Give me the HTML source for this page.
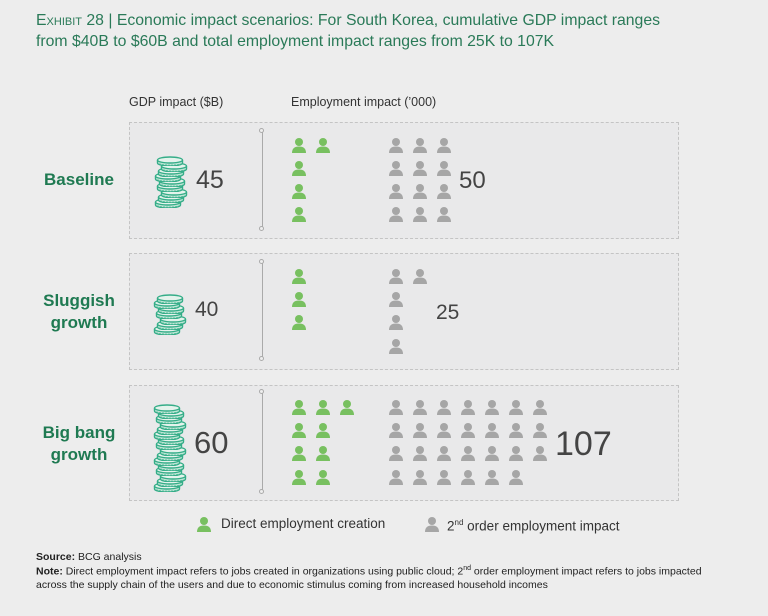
<!DOCTYPE html>
<html><head><meta charset="utf-8"><style>
body{margin:0;width:768px;height:616px;background:#ededed;font-family:"Liberation Sans",sans-serif;position:relative;overflow:hidden}
.a{position:absolute;white-space:nowrap}
.t{color:#2a7a58;font-size:15.8px;left:36px}
.panel{position:absolute;left:129px;width:548px;border:1px dashed #c4c4c4;background:#e9e9ea}
.lab{position:absolute;color:#1f7a52;font-weight:bold;font-size:17px;text-align:center;width:110px;left:24px;line-height:22px}
.num{position:absolute;color:#444;}
.vl{position:absolute;left:262px;width:1px;background:#aaa}
.dot{position:absolute;left:259px;width:5px;height:5px;border:1px solid #aaa;border-radius:50%;background:#eee;box-sizing:border-box;margin-left:0}
.hd{color:#333;font-size:12.5px;top:95px}
</style></head><body>
<svg width="0" height="0" style="position:absolute"><defs>
<symbol id="p" viewBox="0 0 16 16"><circle cx="8" cy="5" r="4"/><path d="M1 16 Q1 9.5 8 9.5 Q15 9.5 15 16Z"/></symbol>
</defs></svg>
<div class="a t" style="top:12px"><span style="font-variant:small-caps">Exhibit</span> 28 | Economic impact scenarios: For South Korea, cumulative GDP impact ranges</div>
<div class="a t" style="top:33px">from $40B to $60B and total employment impact ranges from 25K to 107K</div>
<div class="a hd" style="left:129px">GDP impact ($B)</div>
<div class="a hd" style="left:291px">Employment impact (’000)</div>
<div class="panel" style="top:122px;height:115px"></div>
<div class="panel" style="top:253px;height:115px"></div>
<div class="panel" style="top:385px;height:114px"></div>
<div class="lab" style="top:169px">Baseline</div>
<div class="lab" style="top:290px">Sluggish<br>growth</div>
<div class="lab" style="top:422px">Big bang<br>growth</div>
<div class="num" style="left:196px;top:166px;font-size:25px">45</div>
<div class="num" style="left:195px;top:298px;font-size:21px">40</div>
<div class="num" style="left:194px;top:425px;font-size:31px">60</div>
<div class="num" style="left:459px;top:167px;font-size:24px">50</div>
<div class="num" style="left:436px;top:301px;font-size:21px">25</div>
<div class="num" style="left:555px;top:425px;font-size:34px">107</div>
<div id="g"></div>
<div class="a" style="left:221px;top:516px;font-size:13.5px;color:#333">Direct employment creation</div>
<div class="a" style="left:447px;top:518px;font-size:13.5px;color:#333">2<sup style="font-size:8px">nd</sup> order employment impact</div>
<div class="a" style="left:36px;top:551px;font-size:10.5px;color:#222"><b>Source:</b> BCG analysis</div>
<div class="a" style="left:36px;top:565px;font-size:10.5px;color:#222"><b>Note:</b> Direct employment impact refers to jobs created in organizations using public cloud; 2<sup style="font-size:7px">nd</sup> order employment impact refers to jobs impacted</div>
<div class="a" style="left:36px;top:579px;font-size:10.5px;color:#222">across the supply chain of the users and due to economic stimulus coming from increased household incomes</div>
<script>
var g=document.getElementById('g'),h='';
function ic(x,y,c){h+='<svg class="a" style="left:'+(x-8)+'px;top:'+(y-8)+'px" width="16" height="16" fill="'+c+'"><use href="#p"/></svg>';}
var G='#78c060',R='#a6a6a6';
function vl(t,b){h+='<div class="vl" style="top:'+t+'px;height:'+(b-t)+'px"></div><div class="dot" style="top:'+(t-3)+'px"></div><div class="dot" style="top:'+(b-3)+'px"></div>';}
vl(131,229);vl(262,359);vl(392,492);
ic(299,145,G);ic(323,145,G);ic(299,168,G);ic(299,191,G);ic(299,214,G);
for(var r=0;r<4;r++)for(var c=0;c<3;c++)ic(396+c*24,145+r*23,R);
ic(299,276,G);ic(299,299,G);ic(299,322,G);
ic(396,276,R);ic(420,276,R);ic(396,299,R);ic(396,322,R);ic(396,346,R);
var ys=[407,430,453,477];
ic(299,ys[0],G);ic(323,ys[0],G);ic(347,ys[0],G);
for(var r=1;r<4;r++){ic(299,ys[r],G);ic(323,ys[r],G);}
for(var r=0;r<4;r++)for(var c=0;c<(r==3?6:7);c++)ic(396+c*24,ys[r],R);
ic(204,524,G);ic(432,524,R);
function coins(cx,top,bot){var n=Math.round((bot-top)/5.2);for(var i=0;i<n;i++){var y=bot-i*5.2,dx=((i*7)%5-2)*1.3;h+='<svg class="a" style="left:'+(cx-15+dx)+'px;top:'+(y-5)+'px" width="30" height="10"><path d="M2.5 4v3a12.5 3 0 0 0 25 0V4" fill="#bfe6d6" stroke="#35ad88" stroke-width="1.4"/><path d="M5 7.5v1.5M8 8v1.5M11 8.3v1.5M14 8.5v1.5M17 8.5v1.5M20 8.3v1.5M23 8v1.5M26 7.5v1" stroke="#35ad88" stroke-width="1"/><ellipse cx="15" cy="4" rx="12.5" ry="3" fill="#e4f3ec" stroke="#35ad88" stroke-width="1.4"/></svg>';}}
coins(171,155,203);coins(170,293,330);coins(170,405,487);
g.innerHTML=h;
</script>
</body></html>
